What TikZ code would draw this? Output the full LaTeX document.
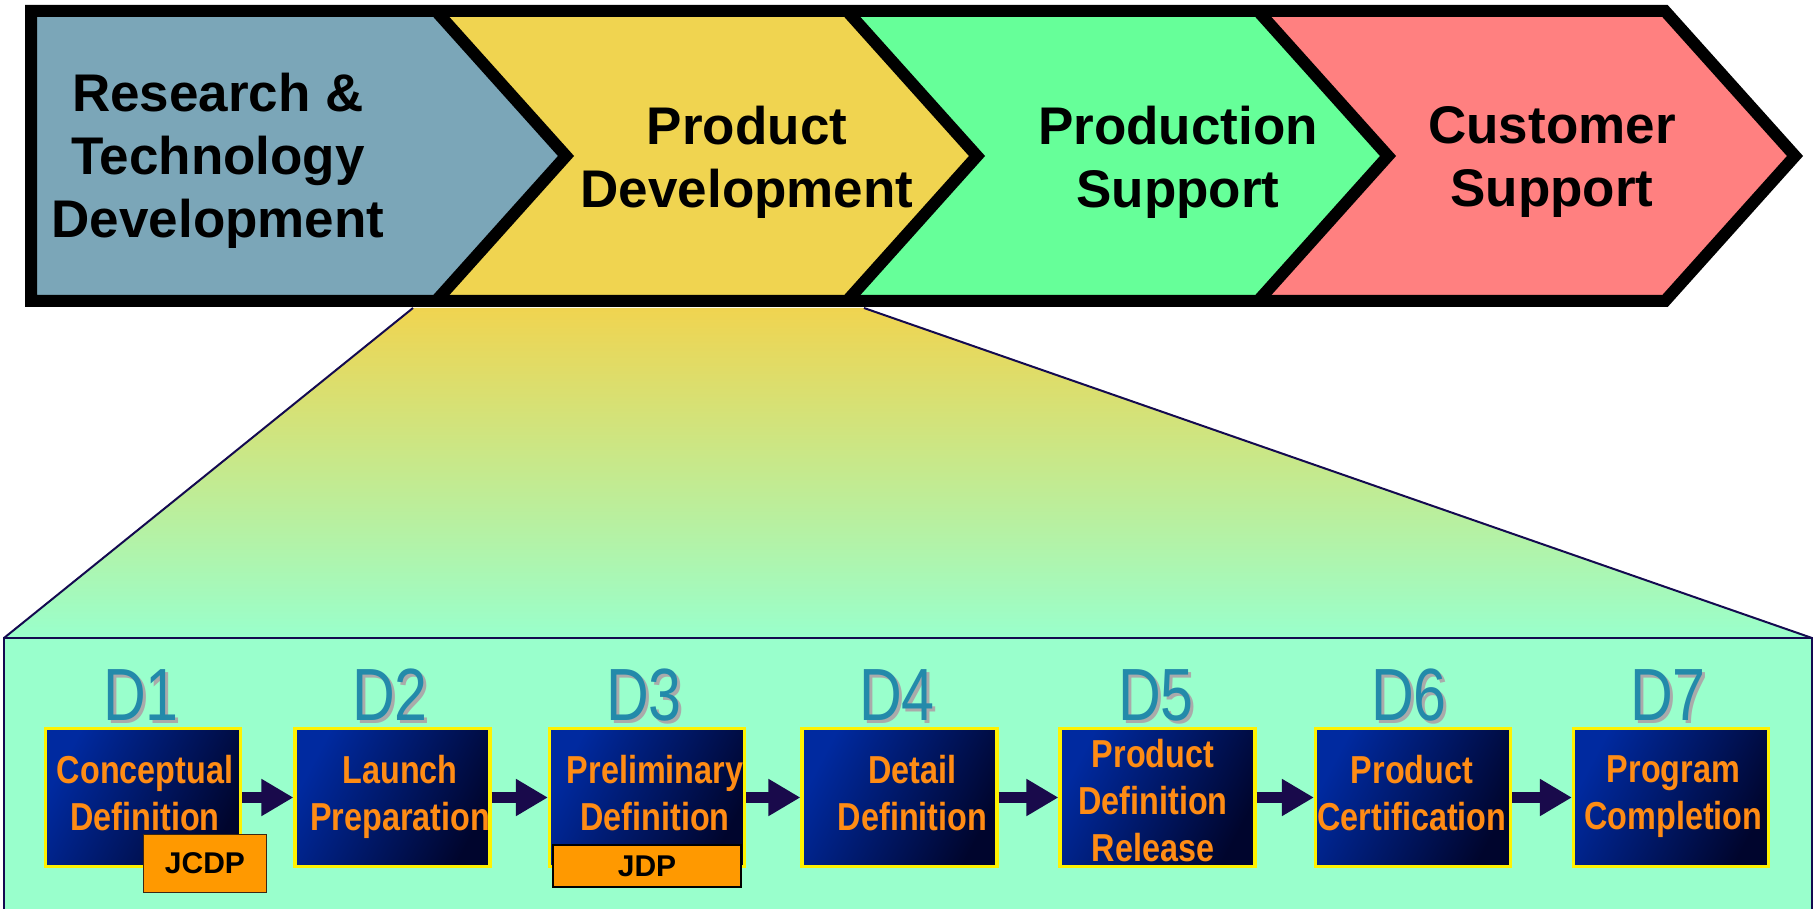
\documentclass[tikz,border=0pt]{standalone}
\usepackage{fontspec}
\setmainfont{Liberation Sans}
\newfontfamily\narrowfont[FakeStretch=0.83]{Liberation Sans}
\newfontfamily\dfont[FakeStretch=0.8]{Liberation Sans}
\usetikzlibrary{arrows.meta}
\definecolor{rtblue}{RGB}{123,166,184}
\definecolor{pdyellow}{RGB}{240,212,80}
\definecolor{psgreen}{RGB}{102,255,153}
\definecolor{cspink}{RGB}{255,128,128}
\definecolor{mint}{RGB}{153,255,204}
\definecolor{navy}{RGB}{20,10,80}
\definecolor{arrowcol}{RGB}{25,10,75}
\definecolor{boxblue}{RGB}{0,42,160}
\definecolor{boxdark}{RGB}{0,5,45}
\definecolor{dteal}{RGB}{35,138,170}
\definecolor{dshadow}{RGB}{170,170,170}
\definecolor{boxorange}{RGB}{255,140,20}
\definecolor{tagorange}{RGB}{255,153,0}
\definecolor{tagborder}{RGB}{60,40,20}
\begin{document}
\begin{tikzpicture}[x=0.5pt,y=-0.5pt,
  chev/.style={draw=black, line width=6pt, line join=miter, miter limit=10},
  chevtext/.style={font=\bfseries\fontsize{26.5pt}{31.5pt}\selectfont, align=center, text=black, inner sep=0pt},
  phasebox/.style={draw=yellow, line width=1.6pt, minimum width=97.5pt, minimum height=69pt, inner sep=0pt, top color=boxblue, bottom color=boxdark, shading angle=62},
  phasetext/.style={font=\narrowfont\bfseries\fontsize{19.5pt}{23.5pt}\selectfont, align=center, text=boxorange, inner sep=0pt},
  dlabel/.style={font=\dfont\fontsize{37pt}{40pt}\selectfont, text=dteal, inner sep=0pt, anchor=base},
  dshade/.style={dlabel, text=dshadow},
  flow/.style={draw=arrowcol, line width=5.5pt, -{Triangle[length=16pt, width=17.5pt]}},
  tagbox/.style={fill=tagorange, font=\bfseries\fontsize{15pt}{18pt}\selectfont, text=black, inner sep=0pt},
  zoomline/.style={draw=navy, line width=1pt}
]
\useasboundingbox (0,0) rectangle (1816,909);
\clip (0,0) rectangle (1816,909);

% zoom funnel
\coordinate (zl) at (413,308);
\coordinate (zr) at (864,308);
\coordinate (bl) at (4,638);
\coordinate (br) at (1812,638);
\fill[mint] (4,638) rectangle (1812,920);
\shade[top color=pdyellow, bottom color=mint] (zl) -- (zr) -- (br) -- (bl) -- cycle;
\draw[zoomline] (zl) -- (bl);
\draw[zoomline] (zr) -- (br);
\draw[zoomline] (4,920) -- (bl) -- (br) -- (1812,920);

% chevrons
\fill[rtblue] (31,11) -- (436,11) -- (566,156) -- (436,301) -- (31,301) -- cycle;
\fill[pdyellow] (436,11) -- (847,11) -- (977,156) -- (847,301) -- (436,301) -- (566,156) -- cycle;
\fill[psgreen] (847,11) -- (1258,11) -- (1388,156) -- (1258,301) -- (847,301) -- (977,156) -- cycle;
\fill[cspink] (1258,11) -- (1665,11) -- (1795,156) -- (1665,301) -- (1258,301) -- (1388,156) -- cycle;
\draw[chev] (31,11) -- (1665,11) -- (1795,156) -- (1665,301) -- (31,301) -- cycle;
\draw[chev] (436,11) -- (566,156) -- (436,301);
\draw[chev] (847,11) -- (977,156) -- (847,301);
\draw[chev] (1258,11) -- (1388,156) -- (1258,301);

\node[chevtext] (c1) at (218,161) {Research \&\\Technology\\Development};
\node[chevtext] (c2) at (747,162) {Product\\Development};
\node[chevtext] (c3) at (1178,162) {Production\\Support};
\node[chevtext] (c4) at (1552,162) {Customer\\Support};

% phase boxes
\node[phasebox] (d1) at (143,797.5) {};
\node[phasebox] (d2) at (392.5,797.5) {};
\node[phasebox] (d3) at (647,797.5) {};
\node[phasebox] (d4) at (899.5,797.5) {};
\node[phasebox] (d5) at (1157.5,797.5) {};
\node[phasebox] (d6) at (1413,797.5) {};
\node[phasebox] (d7) at (1671,797.5) {};

\node[phasetext] (t1) at (145,796.5) {Conceptual\\Definition\vphantom{p}};
\node[phasetext] (t2) at (400,796.5) {Launch\\Preparation};
\node[phasetext] (t3) at (655,796.5) {Preliminary\\Definition\vphantom{p}};
\node[phasetext] (t4) at (912.5,796.5) {Detail\\Definition\vphantom{p}};
\node[phasetext] (t5) at (1153,804.5) {Product\\Definition\\Release\vphantom{p}};
\node[phasetext] (t6) at (1412,796.5) {Product\\Certification\vphantom{p}};
\node[phasetext] (t7) at (1673.5,796.5) {Program\\Completion};

% D labels
\foreach \n/\x in {1/141,2/390,3/644,4/897,5/1156,6/1409,7/1668}{
  \node[dshade] (ds\n) at (\x+3,723) {D\n};
  \node[dlabel] (dl\n) at (\x,720) {D\n};
}

% flow arrows
\draw[flow] (d1.east) -- (d2.west);
\draw[flow] (d2.east) -- (d3.west);
\draw[flow] (d3.east) -- (d4.west);
\draw[flow] (d4.east) -- (d5.west);
\draw[flow] (d5.east) -- (d6.west);
\draw[flow] (d6.east) -- (d7.west);

% tags
\node[tagbox, draw=tagborder, line width=0.6pt, minimum width=61.5pt, minimum height=29pt] (jcdp) at (205,863.5) {JCDP};
\node[tagbox, draw=black, line width=1pt, minimum width=94pt, minimum height=21pt] (jdp) at (647,866) {JDP};
\end{tikzpicture}
\end{document}
